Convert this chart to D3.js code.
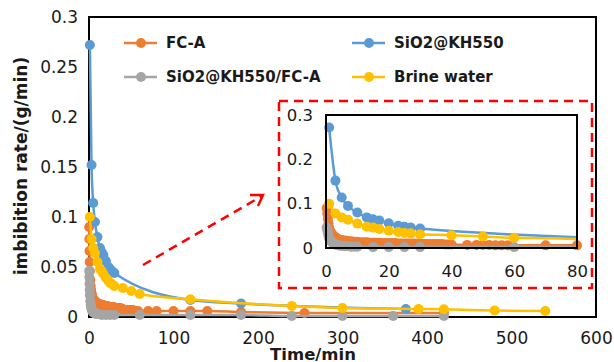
<!DOCTYPE html>
<html>
<head>
<meta charset="utf-8">
<script src="https://cdn.jsdelivr.net/npm/d3@7"></script>
<style>
  body { margin: 0; background: #fff; }
  svg { display: block; font-family: "DejaVu Sans", sans-serif; }
</style>
</head>
<body>
<svg width="614" height="362"></svg>
<script>
// data (time in min, rate in g/min)
var orangeT = [0.2,0.4,0.6,0.8,1, 1.5,2,2.5,3,3.5,4,
  5,6,7,8,9,10,11,12,13,14,15,16,17,18,19,20,21,22,23,24,25,26,27,28,29,30,31,32,33,34,35,36,37,38,39,40,
  45,48,50,52,54,56,58, 70,80, 100,120,140,180, 255,420];
var orangeV = [0.090,0.078,0.066,0.055,0.046, 0.037,0.031,0.027,0.024,0.022,0.020,
  0.018,0.017,0.016,0.015,0.014,0.014,0.013,0.013,0.013,0.012,0.012,0.012,0.012,0.011,0.011,0.011,0.011,0.011,0.010,0.010,0.010,0.010,0.010,0.010,0.010,0.009,0.009,0.009,0.009,0.009,0.009,0.009,0.009,0.008,0.008,0.008,
  0.007,0.007,0.007,0.007,0.006,0.006,0.006, 0.006,0.006, 0.006,0.006,0.006,0.005, 0.004,0.004];

var blueT = [1,3,5,7,10,13,15,17,20,23,25,27,30,120,180,375];
var blueV = [0.272,0.152,0.114,0.095,0.080,0.069,0.065,0.062,0.056,0.050,0.048,0.046,0.044,0.017,0.0135,0.008];

var grayT = [0.2,0.4,0.6,0.8,1, 1.5,2,2.5,3,3.5,4,4.5,5, 6,7,8,9,10, 15,20,25,30,60,120,180, 240,300,360,420];
var grayV = [0.046,0.040,0.033,0.027,0.022, 0.016,0.012,0.010,0.008,0.007,0.006,0.005,0.005, 0.004,0.004,0.003,0.003,0.003,
  0.002,0.002,0.002,0.002,0.002,0.002,0.002, 0.001,0.001,0.001,0.001];

var yellowT = [1,3,5,7,10,13,15,17,20,23,25,27,30,40,50,60,120,240,300,390,420,480,540];
var yellowV = [0.100,0.078,0.069,0.064,0.055,0.048,0.046,0.043,0.039,0.036,0.034,0.033,0.031,0.029,0.026,0.023,0.0177,0.011,0.009,0.008,0.0077,0.0065,0.006];

var seriesNames = ['FC-A','SiO2@KH550','SiO2@KH550/FC-A','Brine water'];
var colors = ['#ED7D31','#5B9BD5','#A5A5A5','#FFC000'];

var xTicks = [0,100,200,300,400,500,600];
var yTicks = [0,0.05,0.1,0.15,0.2,0.25,0.3];
var ixTicks = [0,20,40,60,80];
var iyTicks = [0,0.1,0.2,0.3];

var series = [
  {name: seriesNames[0], color: colors[0], pts: orangeT.map(function(t,i){ return [t, orangeV[i]]; })},
  {name: seriesNames[1], color: colors[1], pts: blueT.map(function(t,i){ return [t, blueV[i]]; })},
  {name: seriesNames[2], color: colors[2], pts: grayT.map(function(t,i){ return [t, grayV[i]]; })},
  {name: seriesNames[3], color: colors[3], pts: yellowT.map(function(t,i){ return [t, yellowV[i]]; })}
];

var svg = d3.select('svg');

var x = d3.scaleLinear().domain([0,600]).range([89,596]);
var y = d3.scaleLinear().domain([0,0.3]).range([317,17]);
var ix = d3.scaleLinear().domain([0,80]).range([326,577]);
var iy = d3.scaleLinear().domain([0,0.3]).range([248,115]);

function fmt(d){ return d === 0 ? '0' : String(+d.toFixed(2)); }

// main axes
var gx = svg.append('g').attr('transform','translate(0,317)')
  .call(d3.axisBottom(x).tickValues(xTicks).tickSize(0).tickPadding(15));
var gy = svg.append('g').attr('transform','translate(89,0)')
  .call(d3.axisLeft(y).tickValues(yTicks).tickSize(0).tickPadding(11).tickFormat(fmt));
[gx, gy].forEach(function(g){
  g.select('.domain').remove();
  g.selectAll('text').attr('font-size',17).attr('fill','#1a1a1a').attr('font-family','DejaVu Sans');
});

svg.append('rect')
  .attr('x', x(0)).attr('y', y(0.3))
  .attr('width', x(600)-x(0)).attr('height', y(0)-y(0.3))
  .attr('fill','none').attr('stroke','#000').attr('stroke-width',2);

var line = d3.line().x(function(d){ return x(d[0]); }).y(function(d){ return y(d[1]); })
  .curve(d3.curveMonotoneX);

series.forEach(function(s){
  svg.append('path').datum(s.pts).attr('d', line)
    .attr('fill','none').attr('stroke', s.color).attr('stroke-width',2.5);
  svg.append('g').selectAll('circle').data(s.pts).join('circle')
    .attr('cx', function(d){ return x(d[0]); })
    .attr('cy', function(d){ return y(d[1]); })
    .attr('r', 5).attr('fill', s.color);
});

// legend
var legendPos = [[124,43],[352,43],[124,77],[352,77]];
series.forEach(function(s,i){
  var p = legendPos[i];
  var g = svg.append('g').attr('transform','translate(' + p[0] + ',' + p[1] + ')');
  g.append('line').attr('x1',0).attr('x2',33).attr('stroke', s.color).attr('stroke-width',2.5);
  g.append('circle').attr('cx',17).attr('r',5).attr('fill', s.color);
  g.append('text').attr('x',42).attr('dy','0.36em').attr('font-size',15)
    .attr('font-weight','bold').attr('fill','#1a1a1a').text(s.name);
});

// axis titles
svg.append('text').attr('x',313).attr('y',360).attr('text-anchor','middle')
  .attr('font-size',16.5).attr('font-weight','bold').attr('fill','#1a1a1a').text('Time/min');
svg.append('text').attr('transform','translate(27,166) rotate(-90)').attr('text-anchor','middle')
  .attr('font-size',17).attr('font-weight','bold').attr('fill','#1a1a1a').text('imbibition rate/(g/min)');

// red dashed box and arrow
svg.append('rect').attr('x',279).attr('y',101).attr('width',313).attr('height',187)
  .attr('fill','#fff').attr('stroke','#FF0000').attr('stroke-width',2.5).attr('stroke-dasharray','9,6');
svg.append('line').attr('x1',143).attr('y1',265).attr('x2',262).attr('y2',196)
  .attr('stroke','#FF0000').attr('stroke-width',2.5).attr('stroke-dasharray','9,6');
svg.append('path').attr('d','M250,195 L263,195 L258,206')
  .attr('fill','none').attr('stroke','#FF0000').attr('stroke-width',2.5);

// inset
var inset = svg.append('g');
inset.append('clipPath').attr('id','iclip').append('rect')
  .attr('x', ix(0)).attr('y', iy(0.3)).attr('width', ix(80)-ix(0)).attr('height', iy(0)-iy(0.3));

var igx = inset.append('g').attr('transform','translate(0,248)')
  .call(d3.axisBottom(ix).tickValues(ixTicks).tickSize(0).tickPadding(17));
var igy = inset.append('g').attr('transform','translate(326,0)')
  .call(d3.axisLeft(iy).tickValues(iyTicks).tickSize(0).tickPadding(13).tickFormat(fmt));
[igx, igy].forEach(function(g){
  g.select('.domain').remove();
  g.selectAll('text').attr('font-size',16.5).attr('fill','#1a1a1a').attr('font-family','DejaVu Sans');
});

var iline = d3.line().x(function(d){ return ix(d[0]); }).y(function(d){ return iy(d[1]); })
  .curve(d3.curveMonotoneX);

series.forEach(function(s){
  inset.append('path').datum(s.pts).attr('d', iline).attr('clip-path','url(#iclip)')
    .attr('fill','none').attr('stroke', s.color).attr('stroke-width',2.5);
  inset.append('g').selectAll('circle').data(s.pts.filter(function(d){ return d[0] <= 80; })).join('circle')
    .attr('cx', function(d){ return ix(d[0]); })
    .attr('cy', function(d){ return iy(d[1]); })
    .attr('r', 5).attr('fill', s.color);
});

inset.append('rect')
  .attr('x', ix(0)).attr('y', iy(0.3))
  .attr('width', ix(80)-ix(0)).attr('height', iy(0)-iy(0.3))
  .attr('fill','none').attr('stroke','#000').attr('stroke-width',2);
</script>
</body>
</html>
